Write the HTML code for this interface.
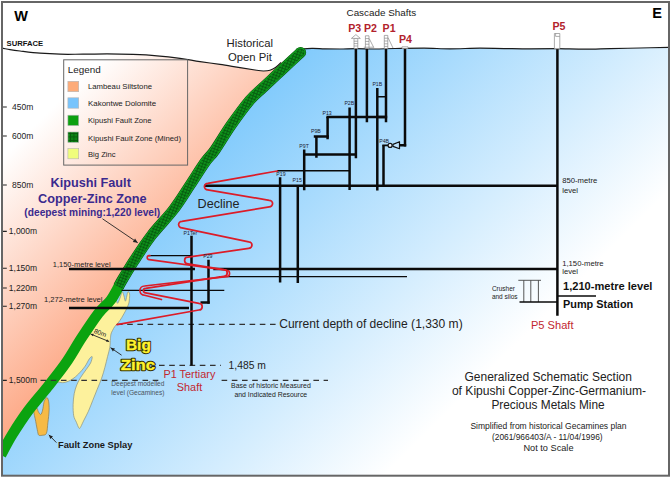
<!DOCTYPE html>
<html lang="en"><head><meta charset="utf-8"><title>Kipushi schematic section</title>
<style>html,body{margin:0;padding:0;background:#fff}svg{display:block}text{font-family:"Liberation Sans",Arial,sans-serif}</style></head><body>
<svg width="672" height="478" viewBox="0 0 672 478">
<defs>
<linearGradient id="gDol" gradientUnits="userSpaceOnUse" x1="173" y1="173" x2="430" y2="430"><stop offset="0" stop-color="#80cafc"/><stop offset="1" stop-color="#ffffff"/></linearGradient>
<linearGradient id="gSil" gradientUnits="userSpaceOnUse" x1="80" y1="80" x2="225" y2="225"><stop offset="0" stop-color="#ffffff"/><stop offset="1" stop-color="#fda784"/></linearGradient>
<pattern id="hatch" width="3" height="3" patternUnits="userSpaceOnUse" patternTransform="rotate(20)"><rect width="3" height="3" fill="#0e8f1a"/><path d="M0 0H3M0 0V3" stroke="#04520c" stroke-width="1.3"/></pattern>
<pattern id="hatch2" width="3.5" height="3.5" patternUnits="userSpaceOnUse"><rect width="3.5" height="3.5" fill="#0d8414"/><path d="M0 0.4H3.5M0.4 0V3.5" stroke="#075a0c" stroke-width="0.9"/></pattern>
<clipPath id="fr"><rect x="2" y="2" width="667" height="473.7"/></clipPath>
</defs>
<rect x="0" y="0" width="672" height="478" fill="#ffffff"/>
<g clip-path="url(#fr)">
<path d="M2.0 48.2 C3.3 48.4 7.0 49.1 10.0 49.6 C13.0 50.1 15.0 50.4 20.0 51.0 C25.0 51.6 33.3 52.7 40.0 53.2 C46.7 53.7 52.8 54.0 60.0 54.2 C67.2 54.4 75.2 54.2 83.0 54.2 C90.8 54.2 98.7 53.9 107.0 53.9 C115.3 53.9 124.7 54.1 133.0 54.4 C141.3 54.7 149.2 55.1 157.0 55.8 C164.8 56.4 172.8 57.3 180.0 58.3 C187.2 59.3 193.3 60.6 200.0 61.6 C206.7 62.6 213.3 63.4 220.0 64.4 C226.7 65.4 234.2 66.7 240.0 67.6 C245.8 68.5 251.1 69.4 255.0 70.0 C258.9 70.6 261.0 71.0 263.5 71.0 C266.0 71.0 268.0 70.9 270.0 70.3 C272.0 69.7 273.7 68.9 275.5 67.6 C277.3 66.3 280.1 63.4 281.0 62.5 L300.6 52.4 C298.8 54.1 293.6 59.0 289.5 62.8 C285.4 66.6 280.6 71.1 276.1 75.3 C271.6 79.5 266.9 83.8 262.5 88.0 C258.1 92.2 254.8 94.3 249.6 100.5 C244.4 106.7 237.0 116.8 231.2 125.0 C225.4 133.2 219.3 143.8 215.0 150.0 C210.7 156.2 209.3 156.2 205.2 162.0 C201.0 167.8 195.4 177.0 190.1 185.0 C184.8 193.0 179.6 201.7 173.2 210.0 C166.8 218.3 158.2 226.7 151.8 235.0 C145.4 243.3 139.3 252.7 134.5 260.0 C129.7 267.3 126.8 272.3 122.8 279.0 C118.8 285.7 114.9 294.2 110.8 300.0 C106.7 305.8 103.1 307.2 98.3 313.5 C93.5 319.8 87.1 329.5 81.7 337.7 C76.3 345.9 71.7 354.6 66.0 362.8 C60.3 371.0 53.8 379.0 47.5 387.0 C41.2 395.0 33.9 403.0 28.0 411.0 C22.1 419.0 16.5 427.7 12.0 435.0 C7.5 442.3 2.8 451.7 1.0 455.0 L2 470 Z" fill="url(#gSil)"/>
<path d="M300.6 52.4 C298.8 54.1 293.6 59.0 289.5 62.8 C285.4 66.6 280.6 71.1 276.1 75.3 C271.6 79.5 266.9 83.8 262.5 88.0 C258.1 92.2 254.8 94.3 249.6 100.5 C244.4 106.7 237.0 116.8 231.2 125.0 C225.4 133.2 219.3 143.8 215.0 150.0 C210.7 156.2 209.3 156.2 205.2 162.0 C201.0 167.8 195.4 177.0 190.1 185.0 C184.8 193.0 179.6 201.7 173.2 210.0 C166.8 218.3 158.2 226.7 151.8 235.0 C145.4 243.3 139.3 252.7 134.5 260.0 C129.7 267.3 126.8 272.3 122.8 279.0 C118.8 285.7 114.9 294.2 110.8 300.0 C106.7 305.8 103.1 307.2 98.3 313.5 C93.5 319.8 87.1 329.5 81.7 337.7 C76.3 345.9 71.7 354.6 66.0 362.8 C60.3 371.0 53.8 379.0 47.5 387.0 C41.2 395.0 33.9 403.0 28.0 411.0 C22.1 419.0 16.5 427.7 12.0 435.0 C7.5 442.3 2.8 451.7 1.0 455.0 L1 475.7 L669 475.7 L669 47.3 C664.2 47.4 649.8 47.8 640.0 48.0 C630.2 48.2 619.2 48.4 610.0 48.6 C600.8 48.8 593.8 49.2 585.0 49.2 C576.2 49.2 566.2 48.8 557.0 48.7 C547.8 48.7 538.8 48.9 530.0 48.9 C521.2 48.9 512.3 48.7 504.0 48.6 C495.7 48.5 489.0 48.2 480.0 48.2 C471.0 48.2 459.3 48.8 450.0 48.8 C440.7 48.8 433.2 48.2 424.0 48.2 C414.8 48.2 403.2 48.4 395.0 48.5 C386.8 48.6 381.5 49.0 375.0 49.0 C368.5 49.0 361.8 48.6 356.0 48.6 C350.2 48.6 345.2 49.0 340.0 49.0 C334.8 49.0 329.7 49.0 325.0 48.9 C320.3 48.8 316.2 48.3 312.0 48.4 C307.8 48.5 302.0 49.1 300.0 49.3 L300.6 52.4 Z" fill="url(#gDol)"/>
<path d="M2.0 48.2 C3.3 48.4 7.0 49.1 10.0 49.6 C13.0 50.1 15.0 50.4 20.0 51.0 C25.0 51.6 33.3 52.7 40.0 53.2 C46.7 53.7 52.8 54.0 60.0 54.2 C67.2 54.4 75.2 54.2 83.0 54.2 C90.8 54.2 98.7 53.9 107.0 53.9 C115.3 53.9 124.7 54.1 133.0 54.4 C141.3 54.7 149.2 55.1 157.0 55.8 C164.8 56.4 172.8 57.3 180.0 58.3 C187.2 59.3 193.3 60.6 200.0 61.6 C206.7 62.6 213.3 63.4 220.0 64.4 C226.7 65.4 234.2 66.7 240.0 67.6 C245.8 68.5 251.1 69.4 255.0 70.0 C258.9 70.6 261.0 71.0 263.5 71.0 C266.0 71.0 268.0 70.9 270.0 70.3 C272.0 69.7 273.7 68.9 275.5 67.6 C277.3 66.3 280.1 63.4 281.0 62.5" fill="none" stroke="#1a1a1a" stroke-width="1.2"/>
<path d="M300.0 49.3 C302.0 49.1 307.8 48.5 312.0 48.4 C316.2 48.3 320.3 48.8 325.0 48.9 C329.7 49.0 334.8 49.0 340.0 49.0 C345.2 49.0 350.2 48.6 356.0 48.6 C361.8 48.6 368.5 49.0 375.0 49.0 C381.5 49.0 386.8 48.6 395.0 48.5 C403.2 48.4 414.8 48.2 424.0 48.2 C433.2 48.2 440.7 48.8 450.0 48.8 C459.3 48.8 471.0 48.2 480.0 48.2 C489.0 48.2 495.7 48.5 504.0 48.6 C512.3 48.7 521.2 48.9 530.0 48.9 C538.8 48.9 547.8 48.7 557.0 48.7 C566.2 48.8 576.2 49.2 585.0 49.2 C593.8 49.2 600.8 48.8 610.0 48.6 C619.2 48.4 630.2 48.2 640.0 48.0 C649.8 47.8 664.2 47.4 669.0 47.3" fill="none" stroke="#1a1a1a" stroke-width="1.2"/>
<path d="M115.4 299.0 C117.0 299.2 116.7 303.5 117.5 303.3 C118.3 303.1 119.3 299.7 120.0 298.0 C120.7 296.3 121.1 294.2 121.5 293.2 C121.9 292.2 122.2 291.5 122.6 292.0 C123.0 292.5 123.5 294.5 124.0 296.0 C124.5 297.5 124.9 301.2 125.4 301.2 C125.9 301.2 126.4 297.6 126.8 296.0 C127.2 294.4 127.5 292.1 128.0 291.8 C128.5 291.5 129.4 292.6 129.6 294.0 C129.8 295.4 129.5 298.3 129.3 300.0 C129.1 301.7 129.2 302.3 128.6 304.0 C128.0 305.7 127.2 307.7 126.0 310.0 C124.8 312.3 123.0 315.5 121.7 317.7 C120.4 319.9 119.2 321.5 118.0 323.0 C116.8 324.5 115.7 325.2 114.8 326.5 C113.9 327.8 113.1 329.2 112.5 330.5 C111.9 331.8 111.3 332.6 111.0 334.0 C110.7 335.4 110.6 336.5 110.4 338.8 C110.2 341.1 110.3 344.7 109.8 347.6 C109.3 350.5 108.4 353.1 107.6 356.4 C106.8 359.7 105.9 363.6 104.9 367.3 C103.9 371.0 102.9 374.6 101.6 378.3 C100.3 382.0 98.7 385.6 97.2 389.3 C95.7 393.0 94.3 396.6 92.8 400.3 C91.3 404.0 89.9 408.0 88.4 411.3 C86.9 414.6 85.3 417.4 84.0 420.0 C82.7 422.6 81.6 425.3 80.8 426.7 C80.0 428.1 79.7 428.9 79.0 428.2 C78.3 427.5 77.3 424.4 76.4 422.3 C75.5 420.2 74.2 418.6 73.7 415.7 C73.2 412.8 73.0 408.4 73.1 404.7 C73.2 401.0 73.6 397.0 74.2 393.7 C74.8 390.4 75.7 387.6 76.8 384.9 C77.9 382.1 79.2 379.8 80.8 377.2 C82.4 374.6 84.6 371.9 86.2 369.5 C87.8 367.1 89.6 365.1 90.6 363.0 C91.6 360.9 92.4 357.5 92.2 356.8 C92.0 356.1 90.7 357.0 89.5 358.6 C88.3 360.2 86.9 363.6 85.1 366.2 C83.3 368.8 80.8 371.7 78.6 373.9 C76.4 376.1 74.2 378.0 72.0 379.4 C69.8 380.8 67.4 381.8 65.4 382.3 C63.4 382.8 61.5 382.7 59.9 382.3 C58.3 381.9 55.0 383.1 56.0 380.0 C57.0 376.9 62.0 369.8 66.0 364.0 C70.0 358.2 75.2 352.0 80.0 345.0 C84.8 338.0 90.3 329.2 95.0 322.0 C99.7 314.8 104.6 305.8 108.0 302.0 C111.4 298.2 113.8 298.8 115.4 299.0Z" fill="#fdf19c" stroke="#8c927a" stroke-width="0.7"/>
<path d="M33.8 410.7 C33.6 412.9 35.1 417.9 35.7 421.4 C36.3 424.9 37.1 429.2 37.6 431.5 C38.1 433.8 38.1 434.6 38.8 435.2 C39.5 435.8 40.7 435.6 42.0 435.3 C43.3 435.0 45.4 435.5 46.4 433.4 C47.4 431.3 47.4 426.6 47.9 422.7 C48.4 418.8 49.0 413.7 49.1 410.1 C49.2 406.5 49.0 403.4 48.6 401.3 C48.2 399.2 47.6 397.9 47.0 397.6 C46.4 397.3 45.7 398.7 45.2 399.5 C44.7 400.3 44.3 400.8 43.9 402.6 C43.5 404.4 43.1 408.1 42.6 410.1 C42.1 412.1 41.4 414.3 40.7 414.5 C40.0 414.7 38.8 412.4 38.2 411.4 C37.6 410.3 37.7 408.3 37.0 408.2 C36.3 408.1 34.0 408.5 33.8 410.7Z" fill="#f6ba45" stroke="#8a7a50" stroke-width="0.7"/>
<path d="M114 287.6L122 288.2L121.6 290.6L118.6 296.4L115.4 299.3L113.6 301.6L111.2 307L104 307Z" fill="#0ba30f"/>
<path d="M119.5 285.0 C118.0 287.5 114.3 295.2 110.8 300.0 C107.3 304.8 103.1 307.2 98.3 313.5 C93.5 319.8 87.1 329.5 81.7 337.7 C76.3 345.9 71.7 354.6 66.0 362.8 C60.3 371.0 53.8 379.0 47.5 387.0 C41.2 395.0 33.9 403.0 28.0 411.0 C22.1 419.0 16.5 427.7 12.0 435.0 C7.5 442.3 2.8 451.7 1.0 455.0" fill="none" stroke="#0ba30f" stroke-width="10.6" stroke-linecap="butt"/>
<circle cx="300.6" cy="52.4" r="5.5" fill="#064d0c"/><circle cx="300.6" cy="52.4" r="5" fill="#13a51f"/><circle cx="300.6" cy="52.4" r="4" fill="url(#hatch)"/>
<path d="M300.6 52.4 C298.8 54.1 293.6 59.0 289.5 62.8 C285.4 66.6 280.6 71.1 276.1 75.3 C271.6 79.5 266.9 83.8 262.5 88.0 C258.1 92.2 254.8 94.3 249.6 100.5 C244.4 106.7 237.0 116.8 231.2 125.0 C225.4 133.2 219.3 143.8 215.0 150.0 C210.7 156.2 209.3 156.2 205.2 162.0 C201.0 167.8 195.4 177.0 190.1 185.0 C184.8 193.0 179.6 201.7 173.2 210.0 C166.8 218.3 158.2 226.7 151.8 235.0 C145.4 243.3 139.3 252.7 134.5 260.0 C129.7 267.3 125.5 274.6 122.8 279.0 C120.1 283.4 119.3 285.3 118.6 286.6" fill="none" stroke="#064d0c" stroke-width="11" stroke-linecap="butt"/>
<path d="M300.6 52.4 C298.8 54.1 293.6 59.0 289.5 62.8 C285.4 66.6 280.6 71.1 276.1 75.3 C271.6 79.5 266.9 83.8 262.5 88.0 C258.1 92.2 254.8 94.3 249.6 100.5 C244.4 106.7 237.0 116.8 231.2 125.0 C225.4 133.2 219.3 143.8 215.0 150.0 C210.7 156.2 209.3 156.2 205.2 162.0 C201.0 167.8 195.4 177.0 190.1 185.0 C184.8 193.0 179.6 201.7 173.2 210.0 C166.8 218.3 158.2 226.7 151.8 235.0 C145.4 243.3 139.3 252.7 134.5 260.0 C129.7 267.3 125.5 274.6 122.8 279.0 C120.1 283.4 119.3 285.3 118.6 286.6" fill="none" stroke="#13a51f" stroke-width="10" stroke-linecap="butt"/>
<path d="M300.6 52.4 C298.8 54.1 293.6 59.0 289.5 62.8 C285.4 66.6 280.6 71.1 276.1 75.3 C271.6 79.5 266.9 83.8 262.5 88.0 C258.1 92.2 254.8 94.3 249.6 100.5 C244.4 106.7 237.0 116.8 231.2 125.0 C225.4 133.2 219.3 143.8 215.0 150.0 C210.7 156.2 209.3 156.2 205.2 162.0 C201.0 167.8 195.4 177.0 190.1 185.0 C184.8 193.0 179.6 201.7 173.2 210.0 C166.8 218.3 158.2 226.7 151.8 235.0 C145.4 243.3 139.3 252.7 134.5 260.0 C129.7 267.3 125.5 274.6 122.8 279.0 C120.1 283.4 119.3 285.3 118.6 286.6" fill="none" stroke="url(#hatch)" stroke-width="8" stroke-linecap="butt"/>
<path d="M40.5 380.3H162M221.6 380.3H328" stroke="#333" stroke-width="1.2" stroke-dasharray="5.6 4.6" fill="none"/>
<path d="M117 324.3H276" stroke="#333" stroke-width="1.2" stroke-dasharray="5.6 4.6" fill="none"/>
<path d="M159 365.4H221" stroke="#333" stroke-width="1.2" stroke-dasharray="5.6 4.6" fill="none"/>
<path d="M204.4 185.7H557.4" stroke="#0a0a0a" stroke-width="2.5" fill="none"/>
<path d="M69.0 268.9H195.0" stroke="#0a0a0a" stroke-width="2.5" fill="none"/>
<path d="M213.3 268.9H557.4" stroke="#0a0a0a" stroke-width="2.5" fill="none"/>
<path d="M219.2 276.6H407.0" stroke="#0a0a0a" stroke-width="1.4" fill="none"/>
<path d="M69.0 307.9H189.0" stroke="#0a0a0a" stroke-width="2.5" fill="none"/>
<path d="M121.5 290.3H224.3" stroke="#0a0a0a" stroke-width="1.3" fill="none"/>
<path d="M148.8 255.6H191.0" stroke="#0a0a0a" stroke-width="1.3" fill="none"/>
<path d="M277.0 170.8H349.6" stroke="#0a0a0a" stroke-width="1.4" fill="none"/>
<path d="M557.4 296.0H596.0" stroke="#0a0a0a" stroke-width="1.6" fill="none"/>
<path d="M355.9 48.5V158.3" stroke="#0a0a0a" stroke-width="2.5" fill="none"/>
<path d="M366.9 48.5V122.2" stroke="#0a0a0a" stroke-width="2.5" fill="none"/>
<path d="M386.0 48.5V122.2" stroke="#0a0a0a" stroke-width="2.5" fill="none"/>
<path d="M405.0 48.3V146.4" stroke="#0a0a0a" stroke-width="2.5" fill="none"/>
<path d="M557.4 48.6V315.8" stroke="#0a0a0a" stroke-width="2.5" fill="none"/>
<path d="M377.3 88.0V190.4" stroke="#0a0a0a" stroke-width="2.5" fill="none"/>
<path d="M377.3 96.7H386.0" stroke="#0a0a0a" stroke-width="1.6" fill="none"/>
<path d="M377.3 117.0H386.0" stroke="#0a0a0a" stroke-width="2.5" fill="none"/>
<path d="M349.6 107.5V190.0" stroke="#0a0a0a" stroke-width="2.5" fill="none"/>
<path d="M326.4 117.0H387.2" stroke="#0a0a0a" stroke-width="2.5" fill="none"/>
<path d="M327.6 117.0V139.2" stroke="#0a0a0a" stroke-width="2.5" fill="none"/>
<path d="M313.8 136.6H328.8" stroke="#0a0a0a" stroke-width="2.5" fill="none"/>
<path d="M316.4 136.6V157.8" stroke="#0a0a0a" stroke-width="2.5" fill="none"/>
<path d="M303.0 154.6H357.0" stroke="#0a0a0a" stroke-width="2.5" fill="none"/>
<path d="M304.2 149.5V190.3" stroke="#0a0a0a" stroke-width="2.5" fill="none"/>
<path d="M280.1 177.2V282.6" stroke="#0a0a0a" stroke-width="2.5" fill="none"/>
<path d="M297.8 185.7V283.0" stroke="#0a0a0a" stroke-width="2.5" fill="none"/>
<path d="M383.5 145.3V186.0" stroke="#0a0a0a" stroke-width="2.5" fill="none"/>
<path d="M382.3 145.4H388.2" stroke="#0a0a0a" stroke-width="1.8" fill="none"/>
<path d="M399.5 145.3H406.2" stroke="#0a0a0a" stroke-width="2.5" fill="none"/>
<path d="M191.5 235.8V365.5" stroke="#0a0a0a" stroke-width="2.5" fill="none"/>
<path d="M208.5 259.8V303.8" stroke="#0a0a0a" stroke-width="2.5" fill="none"/>
<path d="M200.5 302.6H209.7" stroke="#0a0a0a" stroke-width="2.5" fill="none"/>
<circle cx="390.1" cy="145.4" r="2.0" fill="#eef6ff" stroke="#111" stroke-width="1.2"/>
<path d="M393 144.4L399.5 141.7V148.7L393 146.4Z" fill="#bfe2fb" stroke="#111" stroke-width="1.2" stroke-linejoin="round"/>
<path d="M518.3 280.3H541M523.8 280.3V302M530.8 280.3V302M538.4 280.3V302" stroke="#444" stroke-width="0.9" fill="none"/>
<path d="M519.5 302.1H557.4" stroke="#0a0a0a" stroke-width="1.5" fill="none"/>
<path d="M277.3 171.0 L207.7 183.3 A3.3 3.3 0 0 0 207.7 189.9 L269.3 200.3 A3.3 3.3 0 0 1 269.3 206.9 L181.9 221.3 A3.3 3.3 0 0 0 181.9 227.9 L248.7 241.8 A3.3 3.3 0 0 1 248.7 248.4 L187.9 257.2 A3.3 3.3 0 0 0 187.9 263.8 L223.9 269.7 A3.3 3.3 0 0 1 223.9 276.3 L145.7 288.3 A2.3 2.3 0 0 0 145.7 292.9 L198.9 303.4 A3.3 3.3 0 0 1 198.9 310.0 L117.0 324.7" fill="none" stroke="#dc1c28" stroke-width="1.7" stroke-linejoin="round" stroke-linecap="round"/>
<path d="M150.0 255.6 L149.2 255.6 A2.0 2.0 0 0 0 149.2 259.6 L226.4 270.2 A3.2 3.2 0 0 1 226.4 276.6 L144.5 286.0 A4.6 4.6 0 0 0 144.5 295.2 L161.5 299.6" fill="none" stroke="#dc1c28" stroke-width="1.6" stroke-linejoin="round" stroke-linecap="round"/>
<g fill="#fff" stroke="#8a8a8a" stroke-width="0.7">
<path d="M354 38.6H357.8V48.6H354Z"/><path d="M351.4 38.4L355.9 34.6L360.3 38.4Z"/><path d="M354 41.2H357.8M354 43.6H357.8M354 46H357.8" fill="none"/>
<path d="M365.4 35.8H369V48.6H365.4Z"/><path d="M369.2 38.6L373.8 47.6M363.8 47.2H373.8M365.4 38.6H369M365.4 41.4H369M365.4 44.2H369" fill="none"/>
<path d="M384.3 35.4H387.8V48.6H384.3Z"/><path d="M388 37.6L393 48M384.3 38.2H387.8M384.3 41H387.8M384.3 43.8H387.8M384.3 46.4H387.8" fill="none"/>
<path d="M402 46.8H408V48.6H402Z"/>
<path d="M554.4 33.5H559.8V48.8H554.4Z"/><path d="M555.6 33.5V36.4H559.8" fill="none"/>
</g>
<path d="M102.5 218.8L137.7 242.7" stroke="#222" stroke-width="0.9" fill="none"/><path d="M137.7 242.7L132.8 241.9L135.1 238.4Z" fill="#222"/>
<path d="M121.6 355.2L110.6 347.7" stroke="#222" stroke-width="0.9" fill="none"/><path d="M110.6 347.7L115.0 348.4L112.9 351.6Z" fill="#222"/>
<path d="M56.4 442.6L48.8 434.8" stroke="#222" stroke-width="0.9" fill="none"/><path d="M48.8 434.8L53.0 436.4L50.3 439.0Z" fill="#222"/>
<path d="M90.6 334.0L109.2 341.6" stroke="#222" stroke-width="0.9" fill="none"/><path d="M109.2 341.6L106.0 341.8L107.0 339.3Z" fill="#222"/><path d="M90.6 334.0L93.8 333.8L92.8 336.3Z" fill="#222"/>
<text x="14.2" y="20.7" font-size="14.50" fill="#000" font-weight="bold" text-anchor="start">W</text>
<text x="652.2" y="17.9" font-size="14.50" fill="#000" font-weight="bold" text-anchor="start">E</text>
<text x="6.6" y="45.9" font-size="7.90" fill="#111" font-weight="bold" text-anchor="start" textLength="36.6" lengthAdjust="spacingAndGlyphs">SURFACE</text>
<path d="M3 107.0H6.8" stroke="#222" stroke-width="1.1"/>
<text x="12.0" y="109.6" font-size="8.50" fill="#222" font-weight="normal" text-anchor="start">450m</text>
<path d="M3 136.0H6.8" stroke="#222" stroke-width="1.1"/>
<text x="12.0" y="138.5" font-size="8.50" fill="#222" font-weight="normal" text-anchor="start">600m</text>
<path d="M3 185.0H6.8" stroke="#222" stroke-width="1.1"/>
<text x="12.0" y="188.0" font-size="8.50" fill="#222" font-weight="normal" text-anchor="start">850m</text>
<path d="M3 231.4H6.8" stroke="#222" stroke-width="1.1"/>
<text x="8.8" y="234.0" font-size="8.50" fill="#222" font-weight="normal" text-anchor="start">1,000m</text>
<path d="M3 268.3H6.8" stroke="#222" stroke-width="1.1"/>
<text x="8.8" y="271.0" font-size="8.50" fill="#222" font-weight="normal" text-anchor="start">1,150m</text>
<path d="M3 288.0H6.8" stroke="#222" stroke-width="1.1"/>
<text x="8.8" y="291.0" font-size="8.50" fill="#222" font-weight="normal" text-anchor="start">1,220m</text>
<path d="M3 306.3H6.8" stroke="#222" stroke-width="1.1"/>
<text x="8.8" y="308.9" font-size="8.50" fill="#222" font-weight="normal" text-anchor="start">1,270m</text>
<path d="M3 380.4H6.8" stroke="#222" stroke-width="1.1"/>
<text x="8.8" y="383.0" font-size="8.50" fill="#222" font-weight="normal" text-anchor="start">1,500m</text>
<rect x="63.7" y="59.8" width="123.9" height="105.3" fill="none" stroke="#666" stroke-width="1"/>
<text x="67.8" y="73.4" font-size="9.90" fill="#222" font-weight="normal" text-anchor="start">Legend</text>
<rect x="67.9" y="81.3" width="10.8" height="10.4" fill="#fdab78" stroke="#b5b5b5" stroke-width="0.6"/>
<text x="88.0" y="88.8" font-size="7.80" fill="#222" font-weight="normal" text-anchor="start" textLength="64.0" lengthAdjust="spacingAndGlyphs">Lambeau Siltstone</text>
<rect x="67.9" y="97.8" width="10.8" height="10.4" fill="#78c4fc" stroke="#b5b5b5" stroke-width="0.6"/>
<text x="88.0" y="105.6" font-size="7.80" fill="#222" font-weight="normal" text-anchor="start" textLength="68.2" lengthAdjust="spacingAndGlyphs">Kakontwe Dolomite</text>
<rect x="67.9" y="115.2" width="10.8" height="10.4" fill="#0da00f" stroke="#b5b5b5" stroke-width="0.6"/>
<text x="88.0" y="123.0" font-size="7.80" fill="#222" font-weight="normal" text-anchor="start" textLength="63.6" lengthAdjust="spacingAndGlyphs">Kipushi Fault Zone</text>
<rect x="67.9" y="132.0" width="10.8" height="10.4" fill="url(#hatch2)" stroke="#b5b5b5" stroke-width="0.6"/>
<text x="88.0" y="140.7" font-size="7.80" fill="#222" font-weight="normal" text-anchor="start" textLength="93.0" lengthAdjust="spacingAndGlyphs">Kipushi Fault Zone (Mined)</text>
<rect x="67.9" y="148.4" width="10.8" height="10.4" fill="#f0fd7c" stroke="#b5b5b5" stroke-width="0.6"/>
<text x="88.0" y="156.6" font-size="7.80" fill="#222" font-weight="normal" text-anchor="start" textLength="27.6" lengthAdjust="spacingAndGlyphs">Big Zinc</text>
<text x="90.7" y="187.4" font-size="12.70" fill="#3b2a8e" font-weight="bold" text-anchor="middle">Kipushi Fault</text>
<text x="92.3" y="203.0" font-size="12.70" fill="#3b2a8e" font-weight="bold" text-anchor="middle">Copper-Zinc Zone</text>
<text x="92.3" y="215.6" font-size="10.20" fill="#3b2a8e" font-weight="bold" text-anchor="middle">(deepest mining:1,220 level)</text>
<text x="52.8" y="266.6" font-size="7.70" fill="#222" font-weight="normal" text-anchor="start" textLength="57.8" lengthAdjust="spacingAndGlyphs">1,150-metre level</text>
<text x="44.0" y="301.8" font-size="7.70" fill="#222" font-weight="normal" text-anchor="start" textLength="58.5" lengthAdjust="spacingAndGlyphs">1,272-metre level</text>
<text x="249.8" y="47.2" font-size="11.30" fill="#222" font-weight="normal" text-anchor="middle">Historical</text>
<text x="250.0" y="61.1" font-size="11.30" fill="#222" font-weight="normal" text-anchor="middle">Open Pit</text>
<text x="346.5" y="16.3" font-size="9.90" fill="#222" font-weight="normal" text-anchor="start">Cascade Shafts</text>
<text x="348.2" y="31.5" font-size="10.60" fill="#b2222c" font-weight="bold" text-anchor="start">P3</text>
<text x="364.0" y="31.5" font-size="10.60" fill="#b2222c" font-weight="bold" text-anchor="start">P2</text>
<text x="382.6" y="32.2" font-size="10.60" fill="#b2222c" font-weight="bold" text-anchor="start">P1</text>
<text x="399.0" y="42.8" font-size="10.60" fill="#b2222c" font-weight="bold" text-anchor="start">P4</text>
<text x="552.4" y="30.2" font-size="10.60" fill="#b2222c" font-weight="bold" text-anchor="start">P5</text>
<text x="276.3" y="175.7" font-size="5.20" fill="#223" font-weight="normal" text-anchor="start">P19</text>
<text x="292.6" y="181.7" font-size="5.20" fill="#223" font-weight="normal" text-anchor="start">P15</text>
<text x="299.3" y="148.0" font-size="5.20" fill="#223" font-weight="normal" text-anchor="start">P9T</text>
<text x="311.0" y="132.8" font-size="5.20" fill="#223" font-weight="normal" text-anchor="start">P9B</text>
<text x="322.5" y="114.6" font-size="5.20" fill="#223" font-weight="normal" text-anchor="start">P13</text>
<text x="344.4" y="105.0" font-size="5.20" fill="#223" font-weight="normal" text-anchor="start">P2B</text>
<text x="372.4" y="86.2" font-size="5.20" fill="#223" font-weight="normal" text-anchor="start">P1B</text>
<text x="379.2" y="142.6" font-size="5.20" fill="#223" font-weight="normal" text-anchor="start">P4B</text>
<text x="183.6" y="235.0" font-size="5.20" fill="#223" font-weight="normal" text-anchor="start">P1Ter</text>
<text x="203.2" y="258.0" font-size="5.20" fill="#223" font-weight="normal" text-anchor="start">P29</text>
<text x="197.6" y="207.5" font-size="12.60" fill="#222" font-weight="normal" text-anchor="start">Decline</text>
<text x="279.2" y="328.2" font-size="12.05" fill="#222" font-weight="normal" text-anchor="start">Current depth of decline (1,330 m)</text>
<text x="228.6" y="369.2" font-size="10.30" fill="#222" font-weight="normal" text-anchor="start">1,485 m</text>
<text x="189.4" y="378.0" font-size="10.90" fill="#c2272f" font-weight="normal" text-anchor="middle">P1 Tertiary</text>
<text x="189.5" y="390.6" font-size="10.90" fill="#c2272f" font-weight="normal" text-anchor="middle">Shaft</text>
<text x="552.2" y="328.6" font-size="11.10" fill="#c2272f" font-weight="normal" text-anchor="middle">P5 Shaft</text>
<text x="270.9" y="388.4" font-size="6.90" fill="#222" font-weight="normal" text-anchor="middle">Base of historic Measured</text>
<text x="270.8" y="396.8" font-size="6.90" fill="#222" font-weight="normal" text-anchor="middle">and Indicated Resource</text>
<text x="111.3" y="385.8" font-size="6.60" fill="#4a5560" font-weight="normal" text-anchor="start">Deepest modelled</text>
<text x="111.3" y="394.6" font-size="6.60" fill="#4a5560" font-weight="normal" text-anchor="start">level (Gecamines)</text>
<text x="562.2" y="183.1" font-size="7.70" fill="#222" font-weight="normal" text-anchor="start">850-metre</text>
<text x="562.2" y="192.7" font-size="7.70" fill="#222" font-weight="normal" text-anchor="start">level</text>
<text x="562.2" y="265.5" font-size="7.70" fill="#222" font-weight="normal" text-anchor="start">1,150-metre</text>
<text x="562.2" y="274.3" font-size="7.70" fill="#222" font-weight="normal" text-anchor="start">level</text>
<text x="563.0" y="290.3" font-size="11.10" fill="#111" font-weight="bold" text-anchor="start">1,210-metre level</text>
<text x="563.0" y="307.8" font-size="10.90" fill="#111" font-weight="bold" text-anchor="start">Pump Station</text>
<text x="491.9" y="291.0" font-size="6.50" fill="#222" font-weight="normal" text-anchor="start">Crusher</text>
<text x="491.9" y="299.0" font-size="6.50" fill="#222" font-weight="normal" text-anchor="start">and silos</text>
<text x="548.2" y="380.8" font-size="12.00" fill="#222" font-weight="normal" text-anchor="middle">Generalized Schematic Section</text>
<text x="549.0" y="395.2" font-size="12.10" fill="#222" font-weight="normal" text-anchor="middle">of Kipushi Copper-Zinc-Germanium-</text>
<text x="548.0" y="409.2" font-size="11.85" fill="#222" font-weight="normal" text-anchor="middle">Precious Metals Mine</text>
<text x="548.5" y="429.3" font-size="8.52" fill="#222" font-weight="normal" text-anchor="middle">Simplified from historical Gecamines plan</text>
<text x="547.3" y="439.7" font-size="8.40" fill="#222" font-weight="normal" text-anchor="middle">(2061/966403/A - 11/04/1996)</text>
<text x="548.5" y="450.8" font-size="9.20" fill="#222" font-weight="normal" text-anchor="middle">Not to Scale</text>
<text x="58.0" y="447.5" font-size="9.30" fill="#1a1a1a" font-weight="bold" text-anchor="start">Fault Zone Splay</text>
<text x="100.2" y="335.2" font-size="6.60" fill="#222" font-weight="normal" text-anchor="middle" transform="rotate(21 100.2 333)">80m</text>
<text x="138.4" y="350" text-anchor="middle" font-size="15.4" font-weight="bold" fill="#2e2a00" stroke="#2e2a00" stroke-width="2.4" stroke-linejoin="round">Big</text>
<text x="137.9" y="369.8" text-anchor="middle" textLength="34.4" lengthAdjust="spacingAndGlyphs" font-size="15.4" font-weight="bold" fill="#2e2a00" stroke="#2e2a00" stroke-width="2.4" stroke-linejoin="round">Zinc</text>
<text x="138.4" y="350" text-anchor="middle" font-size="15.4" font-weight="bold" fill="#fff22e" stroke="#fff22e" stroke-width="0.35" stroke-linejoin="round">Big</text>
<text x="137.9" y="369.8" text-anchor="middle" textLength="34.4" lengthAdjust="spacingAndGlyphs" font-size="15.4" font-weight="bold" fill="#fff22e" stroke="#fff22e" stroke-width="0.35" stroke-linejoin="round">Zinc</text>
</g>
<rect x="2" y="2" width="667" height="473.7" fill="none" stroke="#666" stroke-width="2"/>
</svg></body></html>
